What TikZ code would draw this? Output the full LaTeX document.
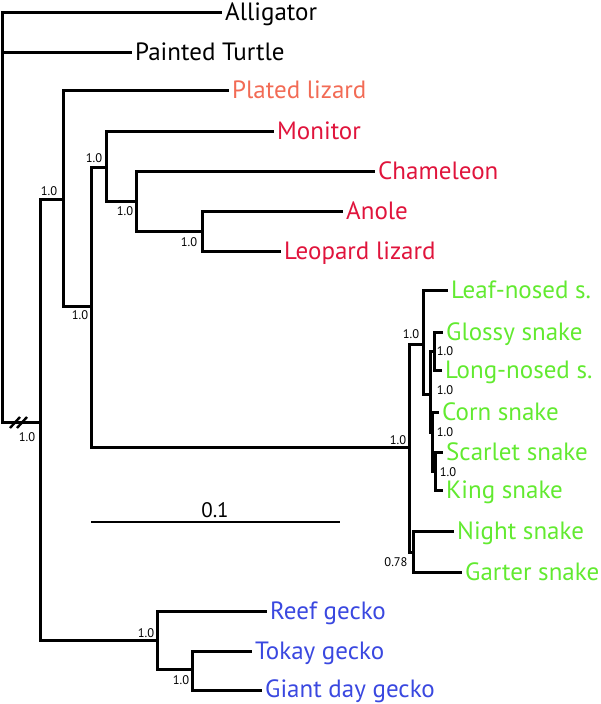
\documentclass[tikz,border=0pt]{standalone}
\usepackage{fontspec}
\setmainfont{PT Sans}
\definecolor{platedc}{HTML}{F26B55}
\definecolor{lizc}{HTML}{E0143C}
\definecolor{snakec}{HTML}{62EA30}
\definecolor{geckoc}{HTML}{3A48E0}
\newcommand{\tipfont}{\fontsize{25}{27}\selectfont}
\newcommand{\supfont}{\fontsize{12.5}{13}\selectfont}
\begin{document}
\begin{tikzpicture}[x=1pt,y=-1pt,
  br/.style={line width=3pt, line cap=rect},
  tip/.style={anchor=base west, inner sep=0pt, xshift=5pt, yshift=-8.7pt, font=\tipfont},
  supp/.style={inner sep=0pt, font=\supfont}]
\useasboundingbox (0,0) rectangle (601,704);
% ---- tips
\node[tip] (alli) at (220,12) {Alligator};
\node[tip] (turt) at (130,52) {Painted Turtle};
\node[tip,text=platedc] (plat) at (227,90) {Plated lizard};
\node[tip,text=lizc] (moni) at (272,131) {Monitor};
\node[tip,text=lizc] (cham) at (373,171) {Chameleon};
\node[tip,text=lizc] (anol) at (341,211) {Anole};
\node[tip,text=lizc] (leop) at (279,251) {Leopard lizard};
\node[tip,text=snakec] (leaf) at (446,290) {Leaf-nosed s.};
\node[tip,text=snakec] (glos) at (441,332) {Glossy snake};
\node[tip,text=snakec] (long) at (440,370) {Long-nosed s.};
\node[tip,text=snakec] (corn) at (437,412) {Corn snake};
\node[tip,text=snakec] (scar) at (441,452) {Scarlet snake};
\node[tip,text=snakec] (king) at (441,490) {King snake};
\node[tip,text=snakec] (nigh) at (452,531) {Night snake};
\node[tip,text=snakec] (gart) at (460,572) {Garter snake};
\node[tip,text=geckoc] (reef) at (265,611) {Reef gecko};
\node[tip,text=geckoc] (toka) at (250,651) {Tokay gecko};
\node[tip,text=geckoc,yshift=1.5pt] (gian) at (260,690) {Giant day gecko};
% ---- internal node coordinates
\coordinate (r0) at (2,12);
\coordinate (r1) at (2,422);
\coordinate (rt) at (2,52);
\coordinate (sq) at (40,422);
\coordinate (sqt) at (40,199);
\coordinate (sqb) at (40,640);
\coordinate (n1t) at (63,90);
\coordinate (n1b) at (63,306);
\coordinate (n2t) at (91,167);
\coordinate (n2b) at (91,447);
\coordinate (n3t) at (106,131);
\coordinate (n3b) at (106,201);
\coordinate (n4t) at (136,171);
\coordinate (n4b) at (136,231);
\coordinate (n5t) at (202,211);
\coordinate (n5b) at (202,251);
\coordinate (s0t) at (409,344);
\coordinate (s0b) at (409,552);
\coordinate (s1t) at (423,290);
\coordinate (s1b) at (423,394);
\coordinate (s2t) at (430,351);
\coordinate (s2b) at (430,432);
\coordinate (s3t) at (434,332);
\coordinate (s3b) at (434,370);
\coordinate (s4t) at (432,412);
\coordinate (s4b) at (432,471);
\coordinate (s5t) at (435,452);
\coordinate (s5b) at (435,490);
\coordinate (s6t) at (413,531);
\coordinate (s6b) at (413,572);
\coordinate (g1t) at (157,611);
\coordinate (g1b) at (157,669);
\coordinate (g2t) at (192,651);
\coordinate (g2b) at (192,690);
% ---- branches
\draw[br] (220,12) -- (r0) -- (r1) -- (sq);
\draw[br] (rt) -- (130,52);
\draw[br] (sqt) -- (sqb);
\draw[br] (sqt) -- (n1t |- sqt);
\draw[br] (n1t) -- (n1b) -- (n2t |- n1b);
\draw[br] (n1t) -- (227,90);
\draw[br] (n2t) -- (n2b) -- (s0t |- n2b);
\draw[br] (n2t) -- (n3t |- n2t);
\draw[br] (n3t) -- (n3b) -- (n4t |- n3b);
\draw[br] (n3t) -- (272,131);
\draw[br] (n4t) -- (n4b) -- (n5t |- n4b);
\draw[br] (n4t) -- (373,171);
\draw[br] (n5t) -- (n5b) -- (279,251);
\draw[br] (n5t) -- (341,211);
% snakes
\draw[br] (s0t) -- (s0b) -- (s6t |- s0b);
\draw[br] (s0t) -- (s1t |- s0t);
\draw[br] (s1t) -- (s1b) -- (s2t |- s1b);
\draw[br] (s1t) -- (446,290);
\draw[br] (s2t) -- (s2b) -- (s4t |- s2b);
\draw[br] (s2t) -- (s3t |- s2t);
\draw[br] (s3t) -- (s3b) -- (440,370);
\draw[br] (s3t) -- (441,332);
\draw[br] (s4t) -- (s4b) -- (s5t |- s4b);
\draw[br] (s4t) -- (437,412);
\draw[br] (s5t) -- (s5b) -- (441,490);
\draw[br] (s5t) -- (441,452);
\draw[br] (s6t) -- (s6b) -- (460,572);
\draw[br] (s6t) -- (452,531);
% geckos
\draw[br] (sqb) -- (g1t |- sqb);
\draw[br] (g1t) -- (g1b) -- (g2t |- g1b);
\draw[br] (g1t) -- (265,611);
\draw[br] (g2t) -- (g2b) -- (260,690);
\draw[br] (g2t) -- (250,651);
% break mark
\draw[line width=2.4pt] (10,428) -- (20,417);
\draw[line width=2.4pt] (17,428) -- (27,417);
% ---- support values
\node[supp] (b1) at (49,191) {1.0};
\node[supp] (b2) at (80,315) {1.0};
\node[supp] (b3) at (94,158) {1.0};
\node[supp] (b4) at (125,211) {1.0};
\node[supp] (b5) at (189,242) {1.0};
\node[supp] (b6) at (27,437) {1.0};
\node[supp] (b7) at (398,440) {1.0};
\node[supp] (b8) at (411,334) {1.0};
\node[supp] (b9) at (445,351) {1.0};
\node[supp] (b10) at (445,390) {1.0};
\node[supp] (b11) at (445,432) {1.0};
\node[supp] (b12) at (448,472) {1.0};
\node[supp] (b13) at (396,562) {0.78};
\node[supp] (b14) at (146,633) {1.0};
\node[supp] (b15) at (181,680) {1.0};
% ---- scale bar
\coordinate (sb1) at (91,522);
\coordinate (sb2) at (340,522);
\draw[line width=2.5pt] (sb1) -- (sb2);
\node[anchor=base, inner sep=0pt, font=\fontsize{21}{22}\selectfont] (sbl) at (215,517) {0.1};
\end{tikzpicture}
\end{document}
